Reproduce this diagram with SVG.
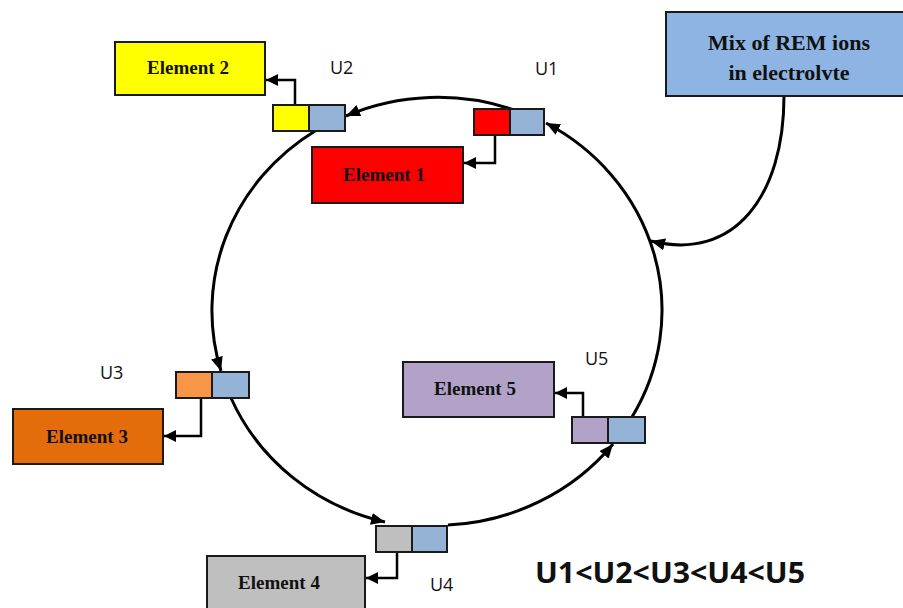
<svg xmlns="http://www.w3.org/2000/svg" width="903" height="608" viewBox="0 0 903 608">
<style>
.box{stroke:#1a1a1a;stroke-width:2}
.el{font-family:"Liberation Serif","Times New Roman",serif;font-weight:bold;font-size:19px;fill:#111;text-anchor:middle}
.mix{font-family:"Liberation Serif","Times New Roman",serif;font-weight:bold;font-size:22px;fill:#111;text-anchor:middle}
.ul{font-family:"Open Sans","DejaVu Sans",sans-serif;font-size:18px;fill:#111}
.ring{fill:none;stroke:#000;stroke-width:3;marker-end:url(#ah)}
.link{fill:none;stroke:#000;stroke-width:2.5;marker-end:url(#as)}
.blue{fill:#95B3D7}
</style>
<defs>
<marker id="ah" markerUnits="userSpaceOnUse" markerWidth="14" markerHeight="12" refX="14" refY="6" orient="auto"><path d="M0,0 L14,6 L0,12 z" fill="#000"/></marker>
<marker id="as" markerUnits="userSpaceOnUse" markerWidth="12" markerHeight="12" refX="12" refY="6" orient="auto"><path d="M0,0 L12,6 L0,12 z" fill="#000"/></marker>
</defs>
<rect width="903" height="608" fill="#fff"/>
<g id="connectors">
<path class="ring" d="M514,110 A225,214 0 0 0 346,116"/>
<path class="ring" d="M315,131 A225,214 0 0 0 221,371"/>
<path class="ring" d="M231,398 A225,214 0 0 0 385,522"/>
<path class="ring" d="M448,525 A225,214 0 0 0 613,444"/>
<path class="ring" d="M632,417 A225,214 0 0 0 546,123"/>
<path class="ring" d="M784,96 C784,195 735,262 651,241"/>
<path class="link" d="M295,105 V80 H266"/>
<path class="link" d="M495,135 V163 H464"/>
<path class="link" d="M201,398 V436 H164"/>
<path class="link" d="M397,552 V578 H366"/>
<path class="link" d="M583,417 V393 H555"/>
</g>
<g id="mix">
<rect class="box" x="666" y="12" width="248" height="84" fill="#8DB4E2"/>
<text class="mix" x="789" y="50">Mix of REM ions</text>
<text class="mix" x="789" y="80">in electrolvte</text>
</g>
<g id="element2">
<rect class="box" x="115" y="42" width="150" height="53" fill="#FFFF00"/>
<text class="el" x="188" y="74">Element 2</text>
</g>
<g id="element1">
<rect class="box" x="312" y="147" width="151" height="56" fill="#FF0000"/>
<text class="el" x="384" y="181">Element 1</text>
</g>
<g id="element3">
<rect class="box" x="13" y="409" width="150" height="55" fill="#E46C0A"/>
<text class="el" x="87" y="443">Element 3</text>
</g>
<g id="element4">
<rect class="box" x="207" y="556" width="158" height="60" fill="#BFBFBF"/>
<text class="el" x="279" y="589">Element 4</text>
</g>
<g id="element5">
<rect class="box" x="403" y="362" width="151" height="55" fill="#B2A2C7"/>
<text class="el" x="475" y="395">Element 5</text>
</g>
<g id="u1">
<rect class="box" x="474" y="109" width="36" height="26" fill="#FF0000"/>
<rect class="box blue" x="510" y="109" width="34" height="26"/>
<text class="ul" x="535" y="75">U1</text>
</g>
<g id="u2">
<rect class="box" x="273" y="105" width="36" height="26" fill="#FFFF00"/>
<rect class="box blue" x="309" y="105" width="36" height="26"/>
<text class="ul" x="330" y="74">U2</text>
</g>
<g id="u3">
<rect class="box" x="176" y="372" width="36" height="26" fill="#F79646"/>
<rect class="box blue" x="212" y="372" width="37" height="26"/>
<text class="ul" x="100" y="379">U3</text>
</g>
<g id="u4">
<rect class="box" x="376" y="526" width="36" height="26" fill="#BFBFBF"/>
<rect class="box blue" x="412" y="526" width="35" height="26"/>
<text class="ul" x="430" y="591">U4</text>
</g>
<g id="u5">
<rect class="box" x="572" y="417" width="36" height="26" fill="#B2A2C7"/>
<rect class="box blue" x="608" y="417" width="37" height="26"/>
<text class="ul" x="585" y="365">U5</text>
</g>
<text x="535" y="583" font-family="'Open Sans','DejaVu Sans',sans-serif" font-weight="bold" font-size="29" fill="#111" textLength="270" lengthAdjust="spacingAndGlyphs">U1&lt;U2&lt;U3&lt;U4&lt;U5</text>
</svg>
